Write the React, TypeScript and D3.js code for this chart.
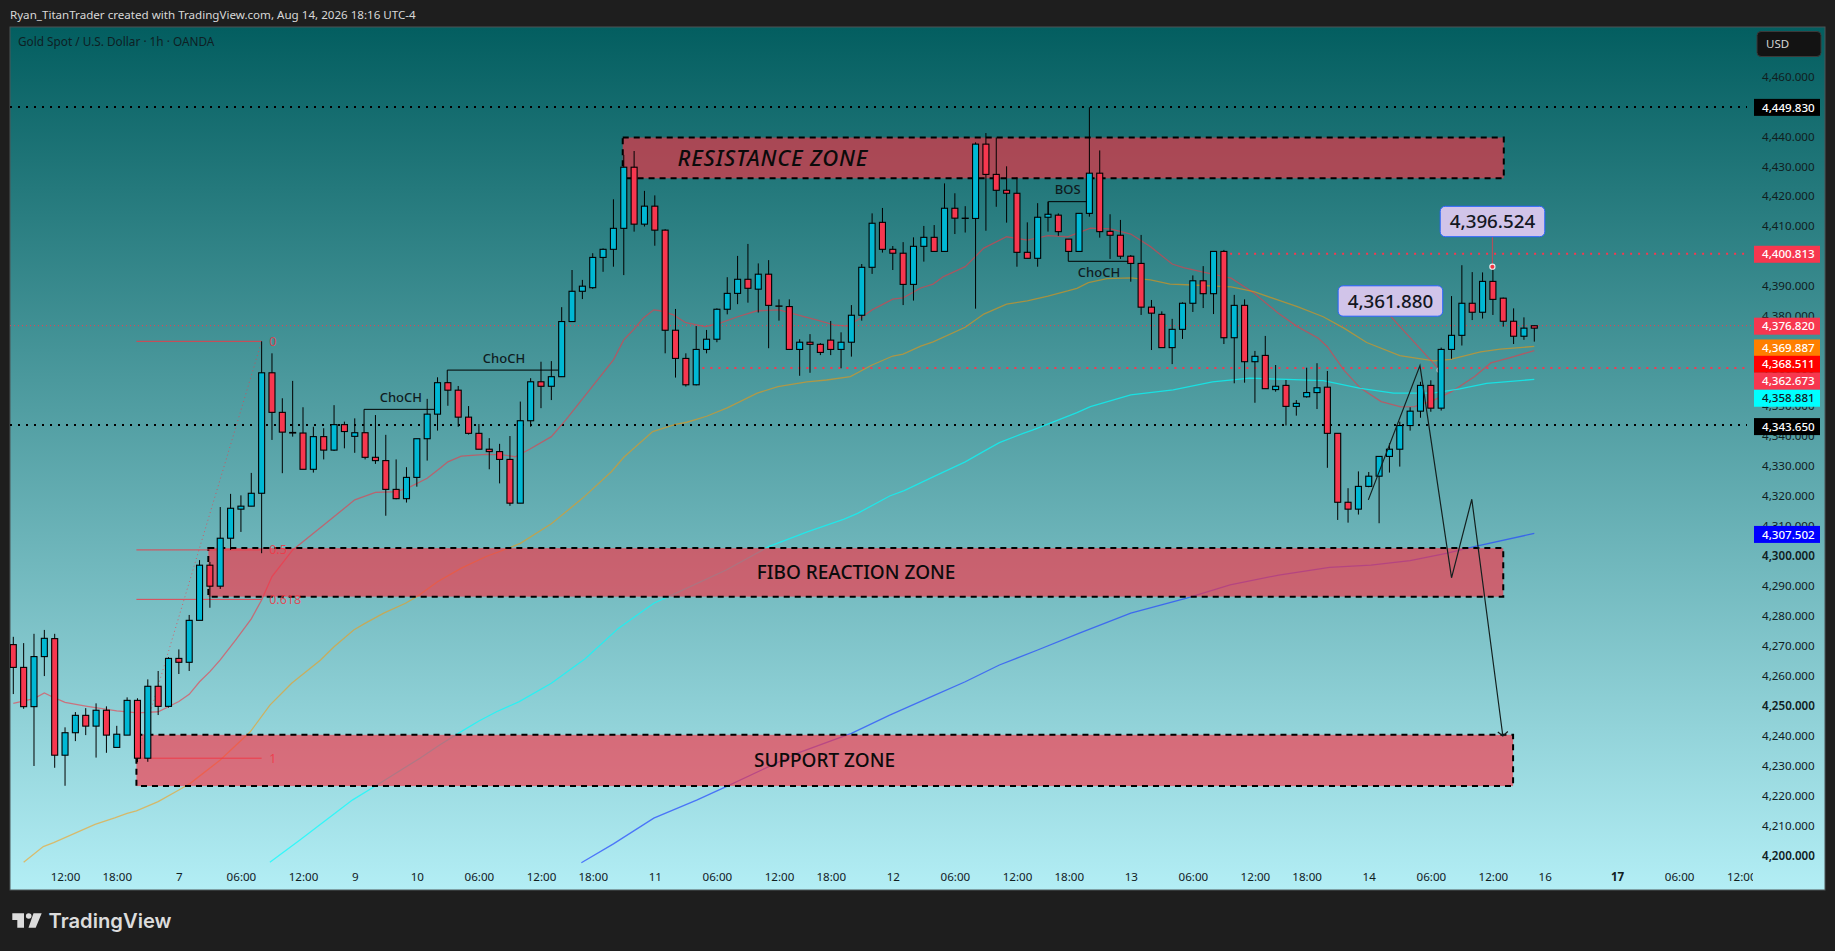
import { useEffect, useRef } from 'react';
import * as d3 from 'd3';

const WIDTH = 1835;
const HEIGHT = 951;
const FONT = '"Noto Sans", sans-serif';

// hourly candles
const opens = [
  4270.4, 4262.8, 4249.7, 4266.4, 4272.4, 4233.5, 4241.0, 4246.8, 4243.2, 4248.5,
  4236.1, 4240.2, 4251.8, 4232.5, 4256.5, 4249.8, 4265.8, 4264.5, 4278.5, 4296.9,
  4289.9, 4305.9, 4315.6, 4316.6, 4320.9, 4361.1, 4347.9, 4341.2, 4341.0, 4328.9,
  4339.8, 4335.3, 4343.8, 4339.9, 4341.1, 4332.9, 4331.8, 4322.2, 4319.1, 4326.2,
  4339.1, 4347.3, 4357.8, 4355.3, 4346.3, 4340.9, 4335.6, 4334.8, 4332.2, 4317.6,
  4345.1, 4358.1, 4356.6, 4359.8, 4378.2, 4388.3, 4389.5, 4399.6, 4402.3, 4409.3,
  4429.7, 4410.7, 4416.7, 4408.7, 4375.3, 4365.9, 4357.1, 4368.9, 4372.3, 4382.3,
  4387.6, 4392.3, 4389.0, 4394.0, 4383.4, 4383.2, 4368.9, 4371.3, 4370.6, 4372.0,
  4368.9, 4371.3, 4380.3, 4396.3, 4411.3, 4402.3, 4401.0, 4390.6, 4403.3, 4406.3,
  4401.6, 4416.0, 4412.7, 4412.6, 4437.4, 4427.3, 4422.0, 4421.0, 4401.3, 4399.3,
  4413.0, 4413.7, 4405.7, 4401.6, 4414.3, 4427.7, 4408.3, 4407.0, 4400.0, 4397.6,
  4383.0, 4380.6, 4369.5, 4375.6, 4384.3, 4391.8, 4387.5, 4401.6, 4372.8, 4383.6,
  4364.8, 4366.9, 4355.5, 4356.9, 4349.9, 4353.1, 4354.5, 4356.3, 4340.9, 4317.9,
  4315.6, 4323.2, 4326.6, 4333.2, 4335.6, 4343.5, 4348.3, 4356.9, 4349.3, 4368.9,
  4373.6, 4384.3, 4381.3, 4391.6, 4386.0, 4378.3, 4373.3, 4376.8,
];
const highs = [
  4273.0, 4270.9, 4274.0, 4275.3, 4274.0, 4242.8, 4247.9, 4249.2, 4250.8, 4249.8,
  4243.3, 4252.8, 4252.5, 4258.8, 4261.6, 4266.2, 4268.8, 4280.3, 4298.6, 4298.0,
  4316.3, 4320.7, 4320.2, 4327.7, 4371.6, 4367.6, 4352.6, 4358.4, 4349.6, 4343.1,
  4342.6, 4350.3, 4344.8, 4345.9, 4341.2, 4347.0, 4340.4, 4332.2, 4329.6, 4339.1,
  4352.4, 4359.6, 4358.0, 4356.7, 4350.0, 4344.0, 4339.3, 4337.4, 4340.0, 4351.5,
  4359.3, 4364.8, 4365.0, 4383.0, 4395.4, 4392.1, 4401.0, 4402.6, 4419.0, 4433.8,
  4435.1, 4421.8, 4420.3, 4409.0, 4382.4, 4367.6, 4376.7, 4375.4, 4382.6, 4393.0,
  4400.1, 4404.1, 4397.6, 4398.7, 4385.6, 4385.6, 4372.3, 4374.0, 4371.0, 4378.4,
  4374.6, 4383.7, 4397.4, 4414.3, 4416.1, 4403.4, 4404.7, 4406.3, 4410.1, 4410.4,
  4424.3, 4421.0, 4416.7, 4438.0, 4441.1, 4439.6, 4430.0, 4426.3, 4411.3, 4417.7,
  4418.2, 4414.3, 4405.7, 4414.3, 4449.7, 4435.3, 4414.0, 4412.1, 4400.4, 4407.1,
  4385.4, 4381.6, 4379.1, 4384.6, 4393.6, 4396.7, 4401.6, 4402.1, 4387.1, 4385.6,
  4368.4, 4373.4, 4363.7, 4358.7, 4352.0, 4362.8, 4364.3, 4361.7, 4340.9, 4322.6,
  4328.2, 4328.0, 4333.2, 4337.6, 4344.8, 4349.6, 4358.1, 4358.6, 4369.5, 4386.7,
  4397.0, 4394.7, 4394.6, 4396.5, 4386.2, 4382.6, 4379.6, 4376.9,
];
const lows = [
  4253.9, 4249.0, 4229.9, 4259.9, 4229.3, 4223.3, 4238.2, 4240.2, 4232.7, 4234.3,
  4236.1, 4240.2, 4231.2, 4231.3, 4246.9, 4249.4, 4260.6, 4261.6, 4278.5, 4282.7,
  4289.0, 4302.0, 4308.0, 4316.6, 4300.9, 4338.7, 4327.6, 4339.8, 4328.9, 4327.8,
  4332.2, 4335.0, 4335.9, 4334.4, 4332.2, 4330.7, 4313.4, 4318.9, 4317.8, 4323.1,
  4331.8, 4341.8, 4350.1, 4343.1, 4340.5, 4335.6, 4328.9, 4324.2, 4316.7, 4317.6,
  4343.1, 4349.3, 4352.0, 4359.8, 4378.2, 4385.7, 4389.1, 4394.8, 4396.5, 4393.7,
  4408.2, 4409.9, 4403.5, 4367.6, 4359.5, 4356.5, 4356.9, 4367.6, 4371.3, 4380.6,
  4384.0, 4384.5, 4381.2, 4369.3, 4378.5, 4368.9, 4360.1, 4361.1, 4367.0, 4367.0,
  4362.6, 4366.5, 4378.5, 4394.1, 4401.2, 4395.4, 4383.7, 4385.2, 4398.2, 4401.6,
  4401.6, 4407.4, 4407.9, 4382.5, 4408.5, 4416.5, 4411.2, 4396.5, 4399.3, 4396.5,
  4408.2, 4406.8, 4401.6, 4401.6, 4413.2, 4406.2, 4399.1, 4399.1, 4391.5, 4380.4,
  4368.7, 4369.5, 4364.0, 4372.4, 4381.4, 4382.7, 4380.7, 4370.7, 4357.6, 4357.8,
  4351.1, 4355.8, 4354.8, 4343.5, 4346.8, 4352.8, 4349.0, 4329.4, 4312.0, 4311.1,
  4313.8, 4322.9, 4310.9, 4327.8, 4329.8, 4341.8, 4346.1, 4348.1, 4348.5, 4365.8,
  4370.2, 4378.7, 4379.2, 4380.4, 4376.5, 4370.7, 4372.1, 4371.5,
];
const closes = [
  4262.8, 4249.7, 4266.4, 4272.5, 4233.5, 4241.0, 4246.8, 4243.2, 4248.5, 4240.2,
  4240.5, 4251.8, 4232.5, 4256.5, 4249.8, 4265.8, 4264.5, 4278.5, 4296.9, 4289.9,
  4305.9, 4315.9, 4316.6, 4320.9, 4361.1, 4347.9, 4341.3, 4341.0, 4328.9, 4339.8,
  4335.3, 4343.8, 4341.5, 4341.1, 4332.9, 4331.8, 4322.2, 4319.1, 4326.2, 4339.1,
  4347.3, 4357.8, 4355.3, 4346.3, 4340.9, 4335.6, 4334.8, 4332.2, 4317.6, 4345.1,
  4358.1, 4356.6, 4359.8, 4378.2, 4388.3, 4390.0, 4399.6, 4402.3, 4409.3, 4429.7,
  4410.7, 4416.7, 4408.7, 4375.3, 4365.9, 4357.1, 4368.9, 4372.3, 4382.3, 4387.6,
  4392.3, 4389.3, 4394.0, 4383.6, 4383.3, 4368.9, 4371.3, 4370.6, 4367.9, 4368.9,
  4371.3, 4380.3, 4396.3, 4411.0, 4402.3, 4401.0, 4390.6, 4403.3, 4406.3, 4401.6,
  4416.0, 4412.7, 4412.6, 4437.4, 4427.3, 4422.0, 4421.0, 4401.3, 4399.3, 4413.0,
  4414.0, 4408.2, 4401.6, 4414.3, 4427.7, 4408.2, 4407.0, 4400.0, 4397.6, 4383.0,
  4381.0, 4369.5, 4375.6, 4384.3, 4391.8, 4387.5, 4401.6, 4372.8, 4383.6, 4364.8,
  4366.6, 4355.8, 4356.6, 4349.9, 4350.9, 4354.5, 4356.1, 4340.9, 4317.9, 4315.6,
  4323.2, 4326.6, 4333.2, 4335.6, 4343.5, 4348.3, 4356.9, 4349.3, 4368.9, 4373.6,
  4384.3, 4381.3, 4391.6, 4385.6, 4378.3, 4373.3, 4376.0, 4376.0,
];

// moving averages, sampled at the bars where they bend
const fastBars = [
  0, 2, 3, 4, 5, 7, 10, 12, 14, 16, 17, 18, 19, 20, 21.5, 23, 24, 25, 27, 30, 33, 35, 37, 38.4, 40,
  41.3, 42, 43.3, 45.7, 47.3, 48.5, 49.9, 52, 53.4, 54.8, 58, 59, 60, 60.9, 61.9, 62.5, 63.8, 65,
  66.9, 68.3, 70, 71.9, 74, 75.8, 77.7, 79.3, 80.6, 81.9, 83, 85, 86, 87.7, 88.9, 89.9, 92, 93.8,
  96, 98, 100, 101.9, 104.1, 106, 108, 109.9, 112, 113.1, 115, 117.7, 119.9, 122.2, 124.1, 126.1,
  127, 128.6, 130.2, 132.2, 134.1, 135.4, 137.3, 139, 141.2, 142.8, 144.5, 147,
];
const fastValues = [
  4250.8, 4252.4, 4254.3, 4252.6, 4251.1, 4249.9, 4248.3, 4247.6, 4248.0, 4251.4, 4253.8, 4258.0,
  4261.4, 4265.3, 4272.0, 4279.0, 4285.3, 4293.1, 4302.0, 4310.3, 4318.7, 4321.2, 4321.4, 4323.1,
  4325.9, 4329.4, 4331.4, 4333.3, 4333.9, 4333.7, 4333.1, 4335.6, 4339.8, 4345.4, 4351.5, 4365.4,
  4372.1, 4375.7, 4379.4, 4382.1, 4381.8, 4380.4, 4377.8, 4376.5, 4377.7, 4379.8, 4381.8, 4382.1,
  4380.4, 4378.7, 4377.1, 4376.7, 4379.4, 4382.1, 4385.7, 4386.1, 4389.4, 4390.7, 4393.2, 4396.5,
  4402.7, 4406.5, 4405.4, 4406.9, 4406.5, 4409.4, 4409.1, 4407.4, 4403.2, 4397.4, 4396.2, 4394.7,
  4392.7, 4387.7, 4381.1, 4376.5, 4372.7, 4369.8, 4362.0, 4356.0, 4351.5, 4349.7, 4349.8, 4352.0,
  4354.8, 4359.8, 4364.4, 4366.0, 4368.5,
];
const midBars = [
  1, 2.9, 3.9, 7.9, 9.8, 11, 11.9, 14, 16, 17.1, 20, 22.9, 24.8, 26.9, 29.7, 31, 32.9, 33.9, 35.8,
  37.9, 39, 41, 43.3, 45.7, 48.1, 49, 52, 55, 57.8, 59, 61.8, 64, 65.1, 67, 69, 71.9, 73.9, 76.7,
  78.6, 80.9, 83, 85, 86, 87.7, 88.9, 92, 93.8, 96, 98, 100, 101.9, 102.8, 103.9, 105.7, 108, 109.9,
  111.8, 114, 117.7, 119.9, 122.2, 124.1, 126.6, 128.6, 130.8, 134, 137.3, 138.9, 141.8, 143.7, 147,
];
const midValues = [
  4197.8, 4203.0, 4204.3, 4210.4, 4212.6, 4214.1, 4214.9, 4218.0, 4221.9, 4224.1, 4231.9, 4241.3,
  4250.2, 4257.5, 4265.3, 4269.7, 4275.3, 4277.3, 4280.9, 4284.2, 4286.4, 4291.4, 4295.9, 4299.8,
  4302.9, 4304.2, 4310.7, 4319.2, 4328.1, 4332.9, 4341.5, 4343.9, 4344.6, 4346.6, 4349.4, 4354.3,
  4356.5, 4358.1, 4358.7, 4359.8, 4363.7, 4366.7, 4367.3, 4370.0, 4371.4, 4376.3, 4380.7, 4384.0,
  4385.1, 4386.7, 4388.4, 4389.3, 4391.2, 4392.5, 4392.8, 4392.1, 4390.7, 4390.4, 4389.8, 4388.2,
  4385.4, 4383.2, 4379.8, 4376.0, 4371.2, 4366.8, 4365.1, 4365.6, 4368.1, 4369.0, 4369.9,
];
const slowBars = [
  24.8, 27.7, 30.9, 32.8, 34.8, 39.3, 41.2, 43, 45, 46.7, 48.9, 52, 55.3, 58.5, 61.9, 64, 68.9, 73,
  76.8, 80.3, 81.6, 84.7, 86.1, 88.9, 92, 94, 95.3, 97.6, 98.5, 102.8, 104.1, 108, 112.1, 115.9,
  119.5, 123.1, 126.6, 130.2, 133.4, 137.2, 139.8, 142.4, 147,
];
const slowValues = [
  4197.8, 4205.2, 4213.6, 4218.6, 4222.8, 4232.5, 4236.9, 4240.8, 4244.9, 4248.0, 4251.4, 4257.5,
  4265.8, 4275.9, 4284.2, 4287.5, 4295.3, 4303.1, 4308.1, 4312.3, 4314.2, 4320.0, 4321.8, 4326.4,
  4331.4, 4335.3, 4337.8, 4340.9, 4342.0, 4347.8, 4349.8, 4353.7, 4355.4, 4358.1, 4359.3, 4358.9,
  4358.5, 4355.9, 4354.3, 4354.3, 4355.7, 4357.6, 4358.9,
];
const baseBars = [
  54.9, 58, 61.9, 66.1, 68.9, 75.8, 81, 84.7, 88.9, 92, 95.3, 99, 103.1, 108, 113.4, 117.6, 122.3,
  127.2, 131.2, 135, 138.6, 141.2, 147,
];
const baseValues = [
  4197.6, 4203.9, 4212.5, 4218.6, 4223.0, 4234.2, 4240.8, 4246.9, 4253.3, 4258.0, 4263.6, 4268.6,
  4274.3, 4280.9, 4285.9, 4290.3, 4293.6, 4296.2, 4296.9, 4298.4, 4300.9, 4303.1, 4307.5,
];

// axes
const priceTicks = d3.range(4200, 4461, 10);
const boldPrices = [4300, 4250, 4200];
const timeBars = [5, 10, 16, 22, 28, 33, 39, 45, 51, 56, 62, 68, 74, 79, 85, 91, 97, 102, 108, 114, 120, 125, 131, 137, 143, 148, 155, 161, 167];
const timeLabels = ['12:00', '18:00', '7', '06:00', '12:00', '9', '10', '06:00', '12:00', '18:00', '11', '06:00', '12:00', '18:00', '12', '06:00', '12:00', '18:00', '13', '06:00', '12:00', '18:00', '14', '06:00', '12:00', '16', '17', '06:00', '12:00'];

// drawn zones and their captions
const zoneNames = ['RESISTANCE ZONE', 'FIBO REACTION ZONE', 'SUPPORT ZONE'];
const zoneStart = [58.9, 18.85, 11.9];
const zoneEnd = [144.05, 144, 144.95];
const zoneTop = [4439.6, 4302.6, 4240.3];
const zoneBottom = [4426.0, 4286.4, 4223.2];
const zoneLabelBar = [73.4, 81.45, 78.4];

// fib retracement
const fibLevels = ['0', '0.5', '0.618', '1'];
const fibPrices = [4371.6, 4302.0, 4285.5, 4232.5];
const fibFromBar = 11.9;
const fibToBar = 24;

// structure brackets: start bar, end bar, level, foot
const bracketStart = [33.9, 41.94, 100.03, 101.96];
const bracketEnd = [40.75, 52.65, 103.74, 107.76];
const bracketLevel = [4348.9, 4362.0, 4418.2, 4398.3];
const bracketFoot = [4341.1, 4357.8, 4414.0, 4401.6];
const bracketText = ['ChoCH', 'ChoCH', 'BOS', 'ChoCH'];
const bracketTextBar = [37.46, 47.42, 101.9, 104.93];
const bracketTextPrice = [4352.9, 4365.9, 4422.4, 4394.6];

// projected path
const pathBars = [130.96, 135.95, 139.0, 140.96, 143.96];
const pathPrices = [4318.7, 4363.5, 4292.7, 4318.9, 4239.9];

// horizontal price lines
const blackLevels = [4449.83, 4343.65];
const redLevels = [4400.813, 4362.673];
const redLevelFrom = [117.6, 66.6];
const lastPrice = 4376.82;

// price scale tags
const tagValues = [4449.83, 4400.813, 4376.82, 4369.887, 4368.511, 4362.673, 4358.881, 4343.65, 4307.502];
const tagFills = ['#000000', '#f7374f', '#f7374f', '#ff7f00', '#ff0000', '#f7374f', '#00ffff', '#000000', '#0000ff'];
const tagInk = ['#ffffff', '#ffffff', '#ffffff', '#ffffff', '#ffffff', '#ffffff', '#131722', '#ffffff', '#ffffff'];
const tagShift = [0, 0, 0, 1, 13.2, 12.7, 18.3, 1, 0.5];

// callouts: value, bar and price of the anchor point
const calloutText = [4396.524, 4361.88];
const calloutBar = [142.95, 137.86];
const calloutPrice = [4396.5, 4362.0];

export default function App() {
  const svgRef = useRef<SVGSVGElement>(null);

  useEffect(() => {
    if (!svgRef.current) return;
    const svg = d3.select(svgRef.current);
    svg.selectAll('*').remove();

    const left = 10;
    const right = 1825;
    const top = 27;
    const bottom = 890;
    const axisLeft = 1753;

    const x = d3.scaleLinear().domain([0, 147]).range([13.3, 1534.3]);
    const y = d3.scaleLinear().domain([4200, 4460]).range([855.6, 76.4]);
    const fmt = d3.format(',.3f');

    svg.append('rect').attr('width', WIDTH).attr('height', HEIGHT).attr('fill', '#1e1e1e');

    const defs = svg.append('defs');
    const grad = defs.append('linearGradient').attr('id', 'bg').attr('x1', 0).attr('x2', 0).attr('y1', 0).attr('y2', 1);
    grad.append('stop').attr('offset', '0%').attr('stop-color', '#035e60');
    grad.append('stop').attr('offset', '100%').attr('stop-color', '#b3eef5');
    defs.append('clipPath').attr('id', 'plot').append('rect')
      .attr('x', left).attr('y', top).attr('width', axisLeft - left).attr('height', bottom - top);

    svg.append('rect')
      .attr('x', left).attr('y', top).attr('width', right - left).attr('height', bottom - top)
      .attr('fill', 'url(#bg)').attr('stroke', '#4d5556').attr('stroke-width', 1);

    svg.append('text').attr('x', 10).attr('y', 19)
      .attr('font-family', FONT).attr('font-size', 11.6).attr('fill', '#d8d8d8')
      .text('Ryan_TitanTrader created with TradingView.com, Aug 14, 2026 18:16 UTC-4');
    svg.append('text').attr('x', 18).attr('y', 46)
      .attr('font-family', FONT).attr('font-size', 11.8).attr('fill', '#0e2024')
      .text('Gold Spot / U.S. Dollar · 1h · OANDA');

    const plot = svg.append('g').attr('clip-path', 'url(#plot)');

    // Price lines
    plot.selectAll('.black-level').data(blackLevels).enter().append('line')
      .attr('x1', left).attr('x2', axisLeft - 6)
      .attr('y1', d => y(d)).attr('y2', d => y(d))
      .attr('stroke', '#000').attr('stroke-width', 2).attr('stroke-dasharray', '2,6');
    plot.selectAll('.red-level').data(redLevels).enter().append('line')
      .attr('x1', (_, i) => x(redLevelFrom[i])).attr('x2', axisLeft - 4)
      .attr('y1', d => y(d)).attr('y2', d => y(d))
      .attr('stroke', '#f7374f').attr('stroke-width', 2).attr('stroke-dasharray', '2,6');
    plot.append('line')
      .attr('x1', left).attr('x2', axisLeft)
      .attr('y1', y(lastPrice)).attr('y2', y(lastPrice))
      .attr('stroke', '#f7374f').attr('stroke-width', 1).attr('stroke-dasharray', '1,3');

    // Moving averages
    const drawMa = (bars: number[], values: number[], color: string, opacity: number) => {
      const path = d3.line<number>().x(d => x(bars[d])).y(d => y(values[d]));
      plot.append('path')
        .attr('d', path(d3.range(bars.length)))
        .attr('fill', 'none').attr('stroke', color)
        .attr('stroke-opacity', opacity).attr('stroke-width', 1.3);
    };
    drawMa(fastBars, fastValues, '#f23645', 0.6);
    drawMa(midBars, midValues, '#ff9800', 0.55);
    drawMa(slowBars, slowValues, '#00ffff', 0.7);
    drawMa(baseBars, baseValues, '#2346ff', 0.7);

    // Zones
    zoneNames.forEach((_, i) => {
      const zx = x(zoneStart[i]);
      const zw = x(zoneEnd[i]) - zx;
      const zy = y(zoneTop[i]);
      const zh = y(zoneBottom[i]) - zy;
      plot.append('rect')
        .attr('x', zx).attr('y', zy).attr('width', zw).attr('height', zh)
        .attr('fill', '#fa3043').attr('fill-opacity', 0.64)
        .attr('stroke', '#000').attr('stroke-width', 2).attr('stroke-dasharray', '6,5');
    });

    // Fib levels
    fibLevels.forEach((label, i) => {
      plot.append('line')
        .attr('x1', x(fibFromBar)).attr('x2', x(fibToBar))
        .attr('y1', y(fibPrices[i])).attr('y2', y(fibPrices[i]))
        .attr('stroke', '#f23645').attr('stroke-opacity', 0.9).attr('stroke-width', 1);
      plot.append('text')
        .attr('x', x(fibToBar) + 7.5).attr('y', y(fibPrices[i]))
        .attr('dy', '0.35em').attr('font-family', FONT).attr('font-size', 12.5)
        .attr('fill', '#f23645').attr('fill-opacity', 0.85)
        .text(label);
    });
    plot.append('line')
      .attr('x1', x(fibFromBar)).attr('x2', x(fibToBar))
      .attr('y1', y(fibPrices[3])).attr('y2', y(fibPrices[0]))
      .attr('stroke', '#f23645').attr('stroke-opacity', 0.7)
      .attr('stroke-width', 1).attr('stroke-dasharray', '1,3');

    // Callout stems sit under the candles, except the marker on the last swing
    const boxW = 104.6;
    const boxH = 30.4;
    const boxLeft = (i: number) => x(calloutBar[i]) + (i === 0 ? -52.2 : -101.6);
    const boxTop = (i: number) => y(calloutPrice[i]) + (i === 0 ? -60.4 : -84.3);
    const drawStem = (i: number) => {
      plot.append('line')
        .attr('x1', boxLeft(i) + boxW / 2).attr('x2', x(calloutBar[i]))
        .attr('y1', boxTop(i) + boxH).attr('y2', y(calloutPrice[i]))
        .attr('stroke', '#f23645').attr('stroke-opacity', 0.65).attr('stroke-width', 1.2);
      plot.append('circle').attr('cx', x(calloutBar[i])).attr('cy', y(calloutPrice[i])).attr('r', 2.6)
        .attr('fill', '#f23645').attr('stroke', '#e9eeee').attr('stroke-width', 1.1);
    };
    drawStem(1);

    // Candles
    const candles = plot.selectAll('.candle').data(d3.range(opens.length)).enter().append('g').attr('class', 'candle');
    candles.append('line')
      .attr('x1', d => x(d)).attr('x2', d => x(d))
      .attr('y1', d => y(highs[d])).attr('y2', d => y(lows[d]))
      .attr('stroke', '#000').attr('stroke-width', 1);
    candles.append('rect')
      .attr('x', d => x(d) - 3)
      .attr('y', d => y(Math.max(opens[d], closes[d])))
      .attr('width', 6)
      .attr('height', d => Math.max(0.3, Math.abs(y(opens[d]) - y(closes[d]))))
      .attr('fill', d => (closes[d] >= opens[d] ? '#00b8d4' : '#f7374f'))
      .attr('stroke', '#000').attr('stroke-width', 1.1);

    // Zone captions
    zoneNames.forEach((name, i) => {
      plot.append('text')
        .attr('x', x(zoneLabelBar[i])).attr('y', (y(zoneTop[i]) + y(zoneBottom[i])) / 2)
        .attr('dy', '0.35em').attr('text-anchor', 'middle')
        .attr('font-family', FONT).attr('font-size', i === 0 ? 22 : 19)
        .attr('letter-spacing', i === 0 ? 0.8 : 0)
        .attr('font-weight', 500).attr('font-style', i === 0 ? 'italic' : 'normal')
        .attr('fill', '#0b0b0b')
        .text(name);
    });

    // Structure brackets
    bracketText.forEach((label, i) => {
      const b = d3.path();
      b.moveTo(x(bracketStart[i]), y(bracketFoot[i]));
      b.lineTo(x(bracketStart[i]), y(bracketLevel[i]));
      b.lineTo(x(bracketEnd[i]), y(bracketLevel[i]));
      plot.append('path').attr('d', b.toString()).attr('fill', 'none').attr('stroke', '#000').attr('stroke-width', 1);
      plot.append('text')
        .attr('x', x(bracketTextBar[i])).attr('y', y(bracketTextPrice[i]))
        .attr('dy', '0.35em').attr('text-anchor', 'middle')
        .attr('font-family', FONT).attr('font-size', 13).attr('font-weight', 500)
        .attr('fill', '#0f1c1f')
        .text(label);
    });

    // Projected path with arrow head
    const pathLine = d3.line<number>().x(d => x(pathBars[d])).y(d => y(pathPrices[d]));
    plot.append('path')
      .attr('d', pathLine(d3.range(pathBars.length)))
      .attr('fill', 'none').attr('stroke', '#13201f').attr('stroke-width', 1.2);
    const tipX = x(pathBars[4]);
    const tipY = y(pathPrices[4]);
    plot.append('path')
      .attr('d', `M${tipX - 5},${tipY - 4}L${tipX},${tipY}L${tipX + 5},${tipY - 4.5}`)
      .attr('fill', 'none').attr('stroke', '#13201f').attr('stroke-width', 1.2);

    // Callouts
    drawStem(0);
    calloutText.forEach((value, i) => {
      plot.append('rect')
        .attr('x', boxLeft(i)).attr('y', boxTop(i)).attr('width', boxW).attr('height', boxH).attr('rx', 5)
        .attr('fill', '#d1c4e9').attr('stroke', '#2962ff').attr('stroke-width', 1);
      plot.append('text')
        .attr('x', boxLeft(i) + boxW / 2).attr('y', boxTop(i) + boxH / 2)
        .attr('dy', '0.36em').attr('text-anchor', 'middle')
        .attr('font-family', FONT).attr('font-size', 18.8).attr('font-weight', 500)
        .attr('fill', '#131722')
        .text(fmt(value));
    });

    // Price axis
    const yAxis = svg.append('g')
      .attr('transform', 'translate(1762,0)')
      .call(d3.axisRight(y).tickValues(priceTicks).tickFormat(d => fmt(d as number)).tickSize(0).tickPadding(0));
    yAxis.select('.domain').remove();
    yAxis.selectAll('text')
      .attr('font-family', FONT)
      .style('font-size', '11.6px')
      .style('fill', '#10201f')
      .style('font-weight', d => (boldPrices.includes(d as number) ? 600 : 400));

    // Time axis
    defs.append('clipPath').attr('id', 'time').append('rect')
      .attr('x', left).attr('y', 860).attr('width', axisLeft - left).attr('height', 30);
    const xAxis = svg.append('g')
      .attr('clip-path', 'url(#time)')
      .append('g')
      .attr('transform', 'translate(0,872.5)')
      .call(d3.axisBottom(x).tickValues(timeBars)
        .tickFormat((_, i) => timeLabels[i]).tickSize(0).tickPadding(0));
    xAxis.select('.domain').remove();
    xAxis.selectAll('text')
      .attr('font-family', FONT)
      .style('font-size', '11.6px')
      .style('fill', '#10201f')
      .style('font-weight', (_, i) => (timeLabels[i] === '17' ? 700 : 400));

    // Price tags
    tagValues.forEach((value, i) => {
      const cy = y(value) + tagShift[i] + 0.5;
      svg.append('rect')
        .attr('x', 1754).attr('y', cy - 8.5).attr('width', 66).attr('height', 17)
        .attr('fill', tagFills[i]);
      svg.append('text')
        .attr('x', 1762).attr('y', cy).attr('dy', '0.36em')
        .attr('font-family', FONT).attr('font-size', 11.6).attr('font-weight', 500)
        .attr('fill', tagInk[i])
        .text(fmt(value));
    });

    // Currency button
    svg.append('rect')
      .attr('x', 1757).attr('y', 31.5).attr('width', 64).attr('height', 25).attr('rx', 4)
      .attr('fill', '#131313').attr('stroke', '#3a3a3a');
    svg.append('text').attr('x', 1766).attr('y', 44).attr('dy', '0.36em')
      .attr('font-family', FONT).attr('font-size', 11.5).attr('fill', '#d5d5d5')
      .text('USD');

    // Logo
    const logo = svg.append('g').attr('fill', '#dcdcdc');
    logo.append('path').attr('d', 'M12.3,913.3H24V927.7H17.3V920H12.3Z');
    logo.append('circle').attr('cx', 28.7).attr('cy', 916).attr('r', 2.8);
    logo.append('path').attr('d', 'M33.5,913.3H41.7L35.7,927.7H28.5Z');
    logo.append('text').attr('x', 48.5).attr('y', 928)
      .attr('font-family', 'Inter, sans-serif').attr('font-size', 20.2).attr('font-weight', 600)
      .text('TradingView');
  }, []);

  return (
    <svg
      ref={svgRef}
      width={WIDTH}
      height={HEIGHT}
      style={{ position: 'fixed', left: 0, top: 0 }}
    />
  );
}
